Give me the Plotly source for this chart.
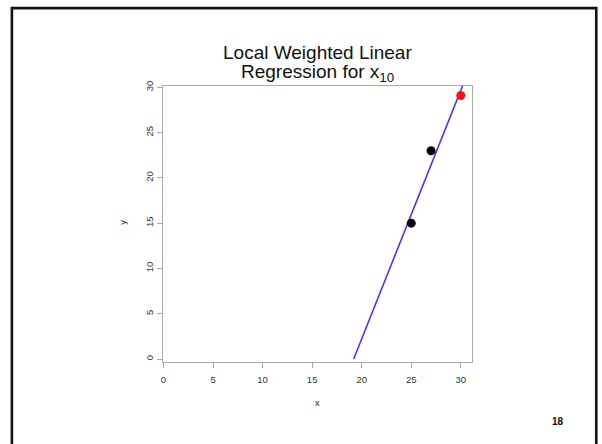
import plotly.graph_objects as go

# data
pts_x = [25, 27]
pts_y = [15, 23]
target_x = [30]
target_y = [29.1]
line_x = [19.19, 30.3]
line_y = [0, 30.5]
x_ticks = [0, 5, 10, 15, 20, 25, 30]
y_ticks = [0, 5, 10, 15, 20, 25, 30]
title_line1 = "Local Weighted Linear"
title_line2 = "Regression for x<sub>10</sub>"
page_number = "18"

W, H = 602, 444
L, R, T, B = 162.7, 472.3, 85.7, 361.7

def px(x):
    return (x - L) / (R - L)

def py(y):
    return (B - y) / (B - T)

FONT = "Liberation Sans, Arial"

fig = go.Figure()
fig.add_trace(go.Scatter(x=line_x, y=line_y, mode="lines",
                         line=dict(color="#3b3bff", width=1.6), showlegend=False))
fig.add_trace(go.Scatter(x=pts_x, y=pts_y, mode="markers",
                         marker=dict(color="black", size=9), showlegend=False))
fig.add_trace(go.Scatter(x=target_x, y=target_y, mode="markers",
                         marker=dict(color="#ff1010", size=9), showlegend=False))

axis_common = dict(showgrid=False, zeroline=False, showline=True, mirror=True,
                   linecolor="#a8a8a8", linewidth=1.2, ticks="outside",
                   ticklen=5, tickcolor="#a8a8a8", tickwidth=1,
                   tickfont=dict(family=FONT, size=9.5, color="#333"))

fig.update_layout(
    width=W, height=H,
    margin=dict(l=L, r=W - R, t=T, b=H - B),
    paper_bgcolor="white", plot_bgcolor="white",
    xaxis=dict(range=[-0.05, 31.13], tickvals=x_ticks, ticklabelstandoff=3, **axis_common),
    yaxis=dict(range=[-0.33, 30.15], tickvals=y_ticks, tickangle=-90, **axis_common),
    showlegend=False,
)

fig.add_annotation(text=title_line1, xref="paper", yref="paper", x=px(317.5), y=py(52.5),
                   xanchor="center", yanchor="middle", showarrow=False,
                   font=dict(family=FONT, size=19, color="#111"))
fig.add_annotation(text=title_line2, xref="paper", yref="paper", x=px(317.5), y=py(72.5),
                   xanchor="center", yanchor="middle", showarrow=False,
                   font=dict(family=FONT, size=19, color="#111"))
fig.add_annotation(text="x", xref="paper", yref="paper", x=px(317), y=py(403),
                   xanchor="center", yanchor="middle", showarrow=False,
                   font=dict(family=FONT, size=9, color="#222"))
fig.add_annotation(text="y", xref="paper", yref="paper", x=px(123), y=py(222),
                   xanchor="center", yanchor="middle", showarrow=False, textangle=-90,
                   font=dict(family=FONT, size=9, color="#222"))
fig.add_annotation(text="<b>" + page_number + "</b>", xref="paper", yref="paper",
                   x=px(558), y=py(421), xanchor="center", yanchor="middle",
                   showarrow=False,
                   font=dict(family=FONT, size=10, color="#111"))

fig.add_shape(type="rect", xref="paper", yref="paper",
              x0=px(11.3), x1=px(596.8), y0=py(7.8), y1=py(460),
              line=dict(color="#111", width=2.6), fillcolor="rgba(0,0,0,0)", layer="above")

fig.write_html("out.html", config={"displayModeBar": False},
               post_script="document.body.style.margin='0';document.body.style.overflow='hidden';")
